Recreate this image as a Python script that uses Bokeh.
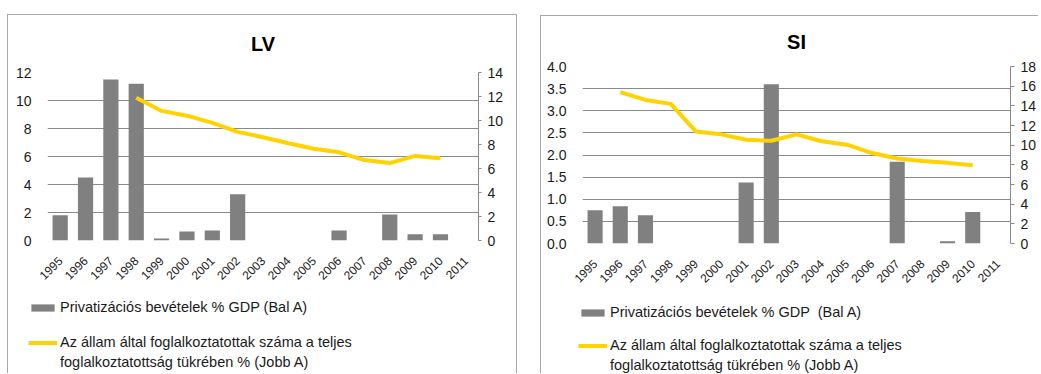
import math

from bokeh.embed import file_html
from bokeh.layouts import column, row
from bokeh.models import (FactorRange, Legend, LegendItem, LinearAxis, Range1d,
                          SingleIntervalTicker, NumeralTickFormatter)
from bokeh.plotting import figure
from bokeh.resources import INLINE

# Years on the category axis
years = [str(y) for y in range(1995, 2012)]

# Latvia: privatisation revenue (% of GDP, left axis)
lv_privat = [1.8, 4.5, 11.5, 11.2, 0.15, 0.65, 0.72, 3.3, 0, 0, 0, 0.72, 0, 1.86, 0.45, 0.45, 0]
# Latvia: state employment share of total employment (%, right axis)
lv_state_years = ["1998", "1999", "2000", "2001", "2002", "2003", "2004",
                  "2005", "2006", "2007", "2008", "2009", "2010"]
lv_state = [11.9, 10.8, 10.4, 9.8, 9.05, 8.6, 8.1, 7.65, 7.35, 6.7, 6.45, 7.05, 6.85]

# Slovenia: privatisation revenue (% of GDP, left axis)
si_privat = [0.75, 0.84, 0.64, 0, 0, 0, 1.38, 3.6, 0, 0, 0, 0, 1.85, 0, 0.05, 0.71, 0]
# Slovenia: state employment share of total employment (%, right axis)
si_state_years = ["1996", "1997", "1998", "1999", "2000", "2001", "2002", "2003",
                  "2004", "2005", "2006", "2007", "2008", "2009", "2010"]
si_state = [15.4, 14.6, 14.2, 11.4, 11.1, 10.55, 10.45, 11.1, 10.4, 10.05, 9.2, 8.65, 8.4, 8.2, 7.95]

bar_label_lv = "Privatizációs bevételek % GDP (Bal A)"
bar_label_si = "Privatizációs bevételek % GDP  (Bal A)"
line_label_1 = "Az állam által foglalkoztatottak száma a teljes"
line_label_2 = "foglalkoztatottság tükrében % (Jobb A)"

FONT = "Liberation Sans"
BAR_COLOR = "#808080"
LINE_COLOR = "#FFD200"
GRID_COLOR = "#8a8a8a"
TEXT_COLOR = "#1a1a1a"
PANEL_BORDER = "1px solid #a8a8a8"


def add_series(p, privat, state_years, state, visible=True):
    bars = p.vbar(x=years, top=privat, width=0.6, color=BAR_COLOR,
                  line_color=None, visible=visible)
    line = p.line(x=state_years, y=state, y_range_name="right",
                  color=LINE_COLOR, line_width=4, visible=visible)
    return bars, line


def chart(title, privat, state_years, state, left_max, left_step, right_max,
          left_fmt, width, height, borders, mins, rtick, rstand, tstand):
    p = figure(x_range=FactorRange(*years), y_range=Range1d(0, left_max),
               width=width, height=height, output_backend="svg",
               toolbar_location=None, margin=0,
               min_border_left=mins[0], min_border_right=mins[1],
               min_border_top=mins[2], min_border_bottom=mins[3],
               styles=borders)
    p.extra_y_ranges = {"right": Range1d(0, right_max)}
    p.outline_line_color = None
    p.background_fill_color = "white"
    p.border_fill_color = "white"

    p.title.text = title
    p.title.align = "center"
    p.title.vertical_align = "top"
    p.title.text_font = FONT
    p.title.text_font_size = "20px"
    p.title.text_font_style = "bold"
    p.title.text_color = "#000000"
    p.title.standoff = tstand

    add_series(p, privat, state_years, state)

    # left axis: labels only
    ax = p.yaxis[0]
    ax.ticker = SingleIntervalTicker(interval=left_step)
    if left_fmt:
        ax.formatter = NumeralTickFormatter(format=left_fmt)
    ax.axis_line_color = None
    ax.major_tick_line_color = None
    ax.minor_tick_line_color = None
    ax.major_tick_out = 0
    ax.major_label_standoff = 12
    ax.major_label_text_font = FONT
    ax.major_label_text_font_size = "14px"
    ax.major_label_text_color = TEXT_COLOR

    # right axis with outward ticks
    rax = LinearAxis(y_range_name="right", ticker=SingleIntervalTicker(interval=2))
    rax.axis_line_color = GRID_COLOR
    rax.major_tick_line_color = GRID_COLOR
    rax.minor_tick_line_color = None
    rax.major_tick_out = rtick
    rax.major_tick_in = 0
    rax.major_label_standoff = rstand
    rax.major_label_text_font = FONT
    rax.major_label_text_font_size = "14px"
    rax.major_label_text_color = TEXT_COLOR
    p.add_layout(rax, "right")

    xa = p.xaxis[0]
    xa.axis_line_color = None
    xa.major_tick_line_color = None
    xa.minor_tick_line_color = None
    xa.major_tick_out = 0
    xa.major_label_orientation = math.pi / 4
    xa.major_label_standoff = 18
    xa.major_label_text_font = FONT
    xa.major_label_text_font_size = "12px"
    xa.major_label_text_color = TEXT_COLOR

    p.xgrid.grid_line_color = None
    p.ygrid.grid_line_color = GRID_COLOR
    p.ygrid.grid_line_width = 1
    return p


def make_legend(items, loc, spacing):
    legend = Legend(items=items, location=loc, orientation="vertical")
    legend.border_line_color = None
    legend.background_fill_alpha = 0
    legend.inactive_fill_alpha = 0
    legend.padding = 0
    legend.margin = 0
    legend.spacing = spacing
    legend.glyph_width = 29
    legend.glyph_height = 9
    legend.label_standoff = 3
    legend.label_text_font = FONT
    legend.label_text_font_size = "14.5px"
    legend.label_text_color = TEXT_COLOR
    return legend


def legend_box(bar_text, privat, state_years, state, right_max, width, height,
               borders, loc1, loc2, spacing):
    # legend strip under each chart; the series are attached (hidden) so the
    # legend swatches share their styles
    lp = figure(x_range=FactorRange(*years), y_range=Range1d(0, 1),
                x_axis_type=None, y_axis_type=None, width=width, height=height,
                output_backend="svg", toolbar_location=None, margin=0,
                min_border_left=0, min_border_right=0, min_border_top=0,
                min_border_bottom=0, styles=borders)
    lp.extra_y_ranges = {"right": Range1d(0, right_max)}
    lp.grid.visible = False
    lp.outline_line_color = None
    lp.border_fill_color = "white"
    bars, line = add_series(lp, privat, state_years, state, visible=False)
    # continuation line of the second entry, without a swatch of its own
    cont = lp.line(x=state_years, y=state, y_range_name="right",
                   line_alpha=0, visible=False)
    lp.add_layout(make_legend([LegendItem(label=bar_text, renderers=[bars]),
                               LegendItem(label=line_label_1, renderers=[line])],
                              loc1, spacing), "center")
    lp.add_layout(make_legend([LegendItem(label=line_label_2, renderers=[cont])],
                              loc2, 0), "center")
    return lp


c1 = chart("LV", lv_privat, lv_state_years, lv_state, 12, 2, 14, None,
           width=510, height=275,
           borders={"border-top": PANEL_BORDER, "border-left": PANEL_BORDER,
                    "border-right": PANEL_BORDER},
           mins=(39, 40, 57, 50), rtick=3, rstand=5, tstand=31)
l1 = legend_box(bar_label_lv, lv_privat, lv_state_years, lv_state, 14, 510, 84,
                {"border-left": PANEL_BORDER, "border-right": PANEL_BORDER},
                (20, 23), (20, 3), 19)

c2 = chart("SI", si_privat, si_state_years, si_state, 4, 0.5, 18, "0.0",
           width=498, height=274,
           borders={"border-top": PANEL_BORDER, "border-left": PANEL_BORDER},
           mins=(41, 28, 50, 47), rtick=4, rstand=6, tstand=24)
l2 = legend_box(bar_label_si, si_privat, si_state_years, si_state, 18, 498, 84,
                {"border-left": PANEL_BORDER}, (37, 20), (37, 0), 17)

# each legend strip sits in its own row so its frame is laid out independently
left_panel = column(c1, row(l1, margin=0), spacing=0, margin=(14, 0, 0, 7))
right_panel = column(c2, row(l2, margin=0), spacing=0, margin=(15, 0, 0, 23))
layout = row(left_panel, right_panel, spacing=0)

with open("out.html", "w") as f:
    f.write(file_html(layout, INLINE))
